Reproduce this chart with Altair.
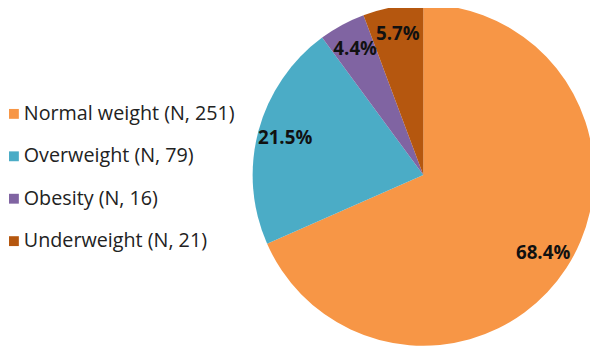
import altair as alt
import pandas as pd

categories = ["Normal weight (N, 251)", "Overweight (N, 79)", "Obesity (N, 16)", "Underweight (N, 21)"]
percents = [68.4, 21.5, 4.4, 5.7]
labels = ["68.4%", "21.5%", "4.4%", "5.7%"]
colors = ["#F79646", "#4BACC6", "#8064A2", "#B5570F"]

df = pd.DataFrame({
    "category": categories,
    "pct": percents,
    "label": labels,
    "order": list(range(len(categories))),
})

cx, cy, R = 421, 167, 173

base = alt.Chart(df).encode(
    theta=alt.Theta("pct:Q", stack=True),
    order=alt.Order("order:Q"),
)

pie = base.mark_arc(outerRadius=R, stroke=None).encode(
    x=alt.value(cx),
    y=alt.value(cy),
    color=alt.Color(
        "category:N",
        scale=alt.Scale(domain=categories, range=colors),
        sort=categories,
        legend=alt.Legend(
            title=None,
            orient="none",
            legendX=-4,
            legendY=95,
            symbolType="square",
            symbolSize=100,
            symbolStrokeWidth=0,
            labelFont="Open Sans",
            labelFontSize=20,
            labelColor="#222222",
            rowPadding=23,
            labelOffset=0,
            labelLimit=400,
        ),
    ),
)

text = base.mark_text(radius=145, font="Open Sans", fontSize=19, fontWeight="bold", color="#111111").encode(
    x=alt.value(cx),
    y=alt.value(cy),
    text="label:N",
)

chart = alt.layer(pie, text).properties(
    width=590, height=341, autosize=alt.AutoSizeParams(type="none"), padding=0
).configure_view(stroke=None)

chart.save("out.html", embed_options={"renderer": "svg", "actions": False})
